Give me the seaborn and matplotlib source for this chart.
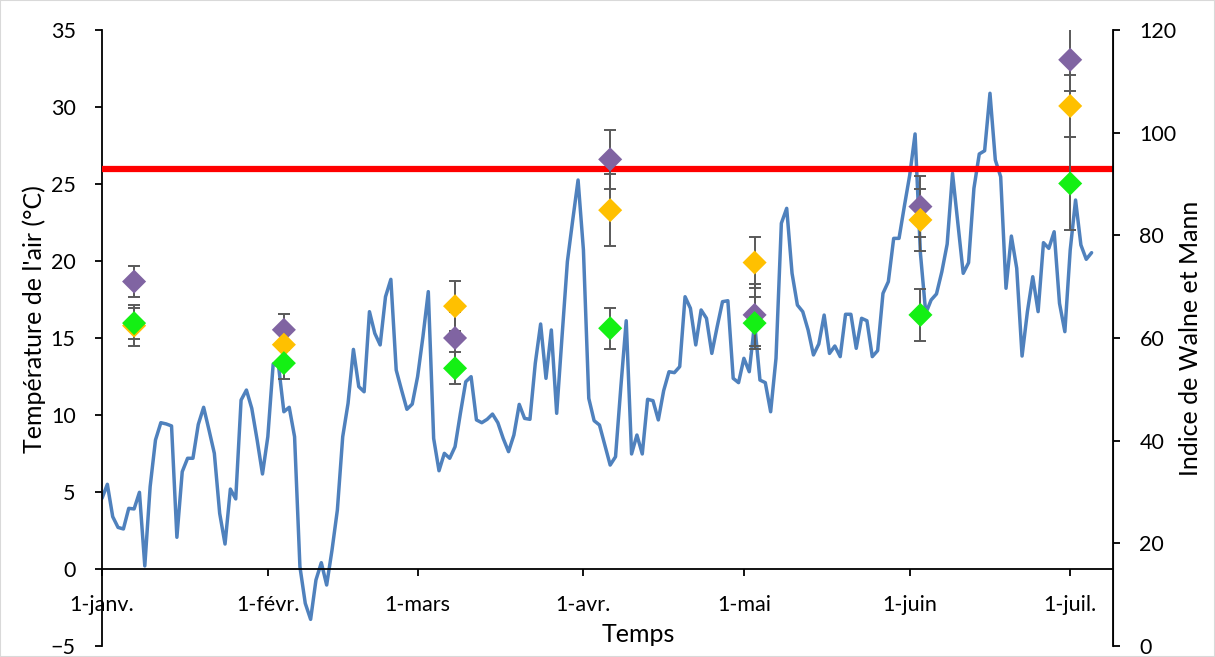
import numpy as np
import pandas as pd
import matplotlib
matplotlib.use("Agg")
import matplotlib.pyplot as plt
import seaborn as sns

# ---------------- data ----------------
start_date = "2015-01-01"
temperature = [
    4.59, 5.5, 3.4, 2.7, 2.6, 3.94, 3.9, 4.98, 0.2, 5.35,
    8.38, 9.5, 9.42, 9.29, 2.06, 6.32, 7.19, 7.19, 9.39, 10.5,
    9.03, 7.51, 3.61, 1.62, 5.19, 4.55, 10.97, 11.62, 10.43, 8.38,
    6.17, 8.59, 13.31, 13.2, 10.21, 10.5, 8.59, 0.15, -2.23, -3.27,
    -0.71, 0.41, -1.04, 1.23, 3.83, 8.59, 10.76, 14.26, 11.84, 11.51,
    16.71, 15.3, 14.55, 17.68, 18.81, 12.92, 11.62, 10.37, 10.71, 12.49,
    15.09, 18.01, 8.48, 6.38, 7.51, 7.19, 7.94, 10.11, 12.16, 12.49,
    9.68, 9.5, 9.72, 10.06, 9.5, 8.48, 7.62, 8.7, 10.69, 9.78,
    9.72, 13.36, 15.91, 12.38, 15.52, 10.11, 15.09, 19.96, 22.66, 25.26,
    20.71, 11.08, 9.63, 9.35, 8.05, 6.75, 7.29, 11.84, 16.12, 7.47,
    8.7, 7.47, 11.02, 10.93, 9.68, 11.58, 12.81, 12.75, 13.14, 17.68,
    16.93, 14.55, 16.82, 16.28, 14.0, 15.73, 17.36, 17.42, 12.38, 12.1,
    13.68, 12.81, 15.95, 12.27, 12.1, 10.21, 13.68, 22.45, 23.42, 19.2,
    17.14, 16.71, 15.52, 13.9, 14.61, 16.49, 14.0, 14.48, 13.79, 16.54,
    16.54, 14.33, 16.28, 16.12, 13.79, 14.18, 17.9, 18.66, 21.47, 21.47,
    23.57, 25.58, 28.25, 20.5, 16.6, 17.47, 17.86, 19.3, 21.1, 25.69,
    22.45, 19.2, 19.89, 24.72, 26.95, 27.16, 30.89, 26.56, 25.47, 18.23,
    21.62, 19.53, 13.83, 16.71, 18.98, 16.71, 21.19, 20.82, 21.9, 17.25,
    15.41, 20.71, 23.96, 21.04, 20.11, 20.54,
]

sample_dates = ["2015-01-07", "2015-02-04", "2015-03-08", "2015-04-06",
                "2015-05-03", "2015-06-03", "2015-07-01"]
index_purple = [71.0, 61.6, 60.0, 94.8, 64.5, 85.6, 114.2]
err_purple = [3.0, 3.0, 5.0, 5.7, 6.0, 6.0, 6.0]
index_orange = [62.4, 58.7, 66.2, 84.9, 74.7, 83.0, 105.2]
err_orange = [4.0, 1.0, 4.9, 7.0, 5.0, 6.0, 6.0]
index_green = [62.9, 55.1, 54.1, 61.9, 62.9, 64.5, 90.1]
err_green = [3.0, 3.0, 3.1, 4.0, 5.0, 5.0, 9.1]

threshold = 26.0

month_ticks = ["2015-01-01", "2015-02-01", "2015-03-01", "2015-04-01",
               "2015-05-01", "2015-06-01", "2015-07-01"]
month_labels = ["1-janv.", "1-févr.", "1-mars", "1-avr.", "1-mai", "1-juin", "1-juil."]
left_ticks = [-5, 0, 5, 10, 15, 20, 25, 30, 35]
right_ticks = [0, 20, 40, 60, 80, 100, 120]

# ---------------- style ----------------
sns.set_style("ticks")
plt.rcParams["font.family"] = ["Lato", "DejaVu Sans"]
plt.rcParams["text.color"] = "black"
plt.rcParams["axes.labelcolor"] = "black"

df = pd.DataFrame({
    "date": pd.date_range(start_date, periods=len(temperature), freq="D"),
    "temp": temperature,
})
samples = pd.DataFrame({
    "date": pd.to_datetime(sample_dates),
    "purple": index_purple, "orange": index_orange, "green": index_green,
})

fig = plt.figure(figsize=(12.15, 6.57), dpi=100)
ax = fig.add_axes([102 / 1215, 1 - 646 / 657, (1113 - 102) / 1215, (646 - 30) / 657])
ax2 = ax.twinx()

ax.set_zorder(1)
ax.patch.set_visible(False)
ax2.set_zorder(2)
ax2.patch.set_visible(False)

sns.lineplot(data=df, x="date", y="temp", ax=ax, color="#4F81BD", linewidth=2.5, zorder=2)
ax.axhline(threshold, color="#FF0000", linewidth=4.5, zorder=3)

ax.set_ylim(-5, 35)
ax2.set_ylim(0, 120)
ax.set_xlim(pd.Timestamp("2015-01-01"), pd.Timestamp("2015-07-09"))

# error bars then markers
for col, err in [("purple", err_purple), ("orange", err_orange), ("green", err_green)]:
    ax2.errorbar(samples["date"], samples[col], yerr=err, fmt="none",
                 ecolor="#595959", elinewidth=1.4, capsize=4.3, capthick=1.4, zorder=3)
for col, color in [("purple", "#8064A2"), ("orange", "#FFC000"), ("green", "#14F014")]:
    sns.scatterplot(data=samples, x="date", y=col, ax=ax2, marker="D", s=150,
                    color=color, edgecolor="none", linewidth=0, zorder=4)

# axes formatting
ax.set_xticks(pd.to_datetime(month_ticks))
ax.set_xticklabels(month_labels)
ax.set_yticks(left_ticks)
ax2.set_yticks(right_ticks)

ax.spines["bottom"].set_position(("data", 0))
ax.spines["top"].set_visible(False)
ax2.spines["top"].set_visible(False)
ax2.spines["bottom"].set_visible(False)
ax2.spines["left"].set_visible(False)
for sp in ["left", "bottom"]:
    ax.spines[sp].set_color("black")
    ax.spines[sp].set_linewidth(1.3)
ax2.spines["right"].set_color("black")
ax2.spines["right"].set_linewidth(1.3)

ax.tick_params(axis="x", direction="out", length=5, width=1.3, pad=14, labelsize=15.5, colors="black")
ax.tick_params(axis="y", direction="out", length=5, width=1.3, pad=14, labelsize=15.5, colors="black")
ax2.tick_params(axis="y", direction="out", length=5, width=1.3, pad=14, labelsize=15.5, colors="black")
ax2.set_xlabel("")

ax.set_xlabel("Temps", fontsize=18)
ax.xaxis.set_label_coords(0.53, 0.0)
ax.xaxis.label.set_verticalalignment("bottom")
ax.set_ylabel("Température de l'air (°C)", fontsize=18)
ax.yaxis.set_label_coords(-0.055, 0.53)
ax2.set_ylabel("Indice de Walne et Mann", fontsize=18)
ax2.yaxis.set_label_coords(1.065, 0.5)

# chart-area border
fig.patches.append(plt.Rectangle((0, 0), 1, 1, transform=fig.transFigure,
                                 fill=False, edgecolor="#D9D9D9", linewidth=1.5))

fig.savefig("out.png", dpi=100)
